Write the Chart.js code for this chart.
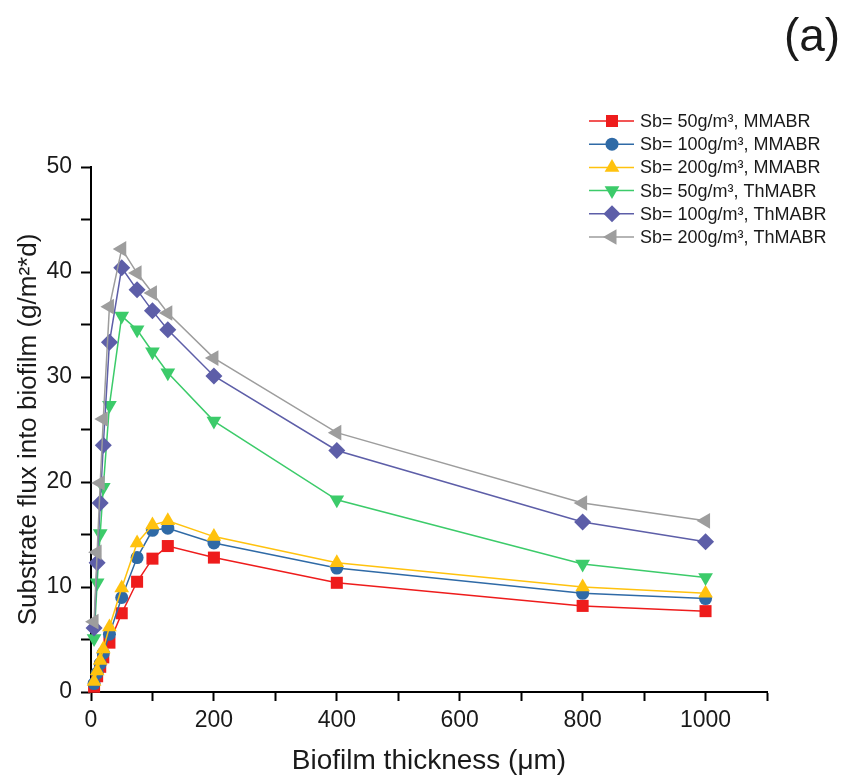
<!DOCTYPE html>
<html>
<head>
<meta charset="utf-8">
<script src="https://cdn.jsdelivr.net/npm/chart.js@4.4.1/dist/chart.umd.min.js"></script>
<style>
  html, body { margin: 0; padding: 0; background: #ffffff; }
  #wrap { width: 853px; height: 778px; position: relative; }
</style>
</head>
<body>
<div id="wrap"><canvas id="fluxChart" width="853" height="778"></canvas></div>
<script>
// Biofilm thickness (µm) at which the substrate flux was evaluated
const thickness = [5, 10, 15, 20, 30, 50, 75, 100, 125, 200, 400, 800, 1000];

// Substrate flux into biofilm (g/m²·d) for each bulk concentration and reactor type
const mmabr50  = [0.5, 1.5, 2.4, 3.3, 4.7, 7.5, 10.5, 12.7, 13.9, 12.8, 10.4, 8.2, 7.7];
const mmabr100 = [0.8, 1.8, 2.7, 3.7, 5.5, 9.0, 12.8, 15.4, 15.6, 14.2, 11.8, 9.4, 8.9];
const mmabr200 = [1.0, 2.0, 3.0, 4.1, 6.2, 9.9, 14.2, 15.9, 16.3, 14.8, 12.3, 10.0, 9.4];
const thmabr50  = [5.1, 10.4, 15.1, 19.5, 27.3, 35.8, 34.5, 32.4, 30.4, 25.8, 18.3, 12.2, 10.9];
const thmabr100 = [6.1, 12.3, 18.0, 23.5, 33.3, 40.4, 38.3, 36.3, 34.5, 30.1, 23.0, 16.2, 14.3];
const thmabr200 = [6.7, 13.3, 19.9, 26.0, 36.7, 42.2, 39.9, 38.0, 36.1, 31.8, 24.7, 18.0, 16.3];

const seriesLabels = [
  'Sb= 50g/m³, MMABR',
  'Sb= 100g/m³, MMABR',
  'Sb= 200g/m³, MMABR',
  'Sb= 50g/m³, ThMABR',
  'Sb= 100g/m³, ThMABR',
  'Sb= 200g/m³, ThMABR'
];
const seriesValues = [mmabr50, mmabr100, mmabr200, thmabr50, thmabr100, thmabr200];

// Axis ranges and tick steps
const xMin = 0, xMax = 1100, xStep = 100, xLabelStep = 200, xLabelMax = 1000;
const yMin = 0, yMax = 50, yStep = 5, yLabelStep = 10;

const panelLabel = '(a)';
const xTitle = 'Biofilm thickness (\u03bcm)';
const yTitle = 'Substrate flux into biofilm (g/m\u00b2*d)';

// Visual styles per series
const seriesStyles = [
  { color: '#ee1c1c', pointStyle: 'rect',     rotation: 0,   radius: 8.5 },
  { color: '#2f6aa6', pointStyle: 'circle',   rotation: 0,   radius: 6.5 },
  { color: '#ffc20e', pointStyle: 'triangle', rotation: 0,   radius: 8.5 },
  { color: '#3ccb6a', pointStyle: 'triangle', rotation: 180, radius: 8.5 },
  { color: '#5d5ea8', pointStyle: 'rectRot',  rotation: 0,   radius: 8.5 },
  { color: '#9d9d9d', pointStyle: 'triangle', rotation: -90, radius: 9 }
];

const FONT = '"Liberation Sans", Arial, Helvetica, sans-serif';

const datasets = seriesValues.map((vals, i) => ({
  label: seriesLabels[i],
  data: thickness.map((t, k) => ({ x: t, y: vals[k] })),
  borderColor: seriesStyles[i].color,
  backgroundColor: seriesStyles[i].color,
  borderWidth: 1.5,
  pointStyle: seriesStyles[i].pointStyle,
  pointRotation: seriesStyles[i].rotation,
  pointRadius: seriesStyles[i].radius,
  pointBorderWidth: 0,
  pointBackgroundColor: seriesStyles[i].color,
  tension: 0,
  clip: false,
  order: -i
}));

// Legend block in the upper right corner plus the panel letter
const cornerLegend = {
  id: 'cornerLegend',
  afterDraw(chart) {
    const ctx = chart.ctx;
    const drawPoint = Chart.helpers && Chart.helpers.drawPoint;
    ctx.save();
    chart.data.datasets.forEach((ds, i) => {
      const y = 121 + i * 23.2;
      ctx.strokeStyle = ds.borderColor;
      ctx.lineWidth = 1.5;
      ctx.beginPath();
      ctx.moveTo(589, y);
      ctx.lineTo(634, y);
      ctx.stroke();
      ctx.fillStyle = ds.backgroundColor;
      if (drawPoint) {
        drawPoint(ctx, { pointStyle: ds.pointStyle, rotation: ds.pointRotation, radius: ds.pointRadius, borderWidth: 0 }, 612, y);
      } else {
        ctx.beginPath(); ctx.arc(612, y, 6, 0, Math.PI * 2); ctx.fill();
      }
      ctx.fillStyle = '#1a1a1a';
      ctx.font = '18px ' + FONT;
      ctx.textAlign = 'left';
      ctx.textBaseline = 'middle';
      ctx.fillText(ds.label, 640, y + 1);
    });
    ctx.fillStyle = '#1a1a1a';
    ctx.font = '46px ' + FONT;
    ctx.textAlign = 'center';
    ctx.textBaseline = 'middle';
    ctx.fillText(panelLabel, 812, 38);
    ctx.restore();
  }
};

new Chart(document.getElementById('fluxChart'), {
  type: 'line',
  data: { datasets },
  plugins: [cornerLegend],
  options: {
    responsive: false,
    animation: false,
    devicePixelRatio: 1,
    layout: { padding: { top: 167, right: 86, bottom: 0, left: 0 } },
    plugins: { legend: { display: false }, tooltip: { enabled: false }, title: { display: false } },
    scales: {
      x: {
        type: 'linear',
        min: xMin, max: xMax,
        afterFit: s => { s.height = 86; },
        ticks: {
          stepSize: xStep,
          autoSkip: false,
          maxRotation: 0,
          padding: 6,
          color: '#1a1a1a',
          font: { family: FONT, size: 23 },
          callback: v => (v % xLabelStep === 0 && v <= xLabelMax) ? String(v) : ''
        },
        grid: { drawOnChartArea: false, drawTicks: true, tickLength: 9, tickWidth: 2, tickColor: '#000' },
        border: { display: true, color: '#000', width: 2 },
        title: { display: true, text: xTitle, color: '#1a1a1a', font: { family: FONT, size: 28 }, padding: { top: 0, bottom: 0 } }
      },
      y: {
        type: 'linear',
        min: yMin, max: yMax,
        afterFit: s => { s.width = 91; },
        ticks: {
          stepSize: yStep,
          autoSkip: false,
          padding: 9,
          color: '#1a1a1a',
          font: { family: FONT, size: 23 },
          callback: v => (v % yLabelStep === 0) ? String(v) : ''
        },
        grid: { drawOnChartArea: false, drawTicks: true, tickLength: 10, tickWidth: 2, tickColor: '#000' },
        border: { display: true, color: '#000', width: 2 },
        title: { display: true, text: yTitle, color: '#1a1a1a', font: { family: FONT, size: 26 }, padding: { top: 13, bottom: 0 } }
      }
    }
  }
});
</script>
</body>
</html>
